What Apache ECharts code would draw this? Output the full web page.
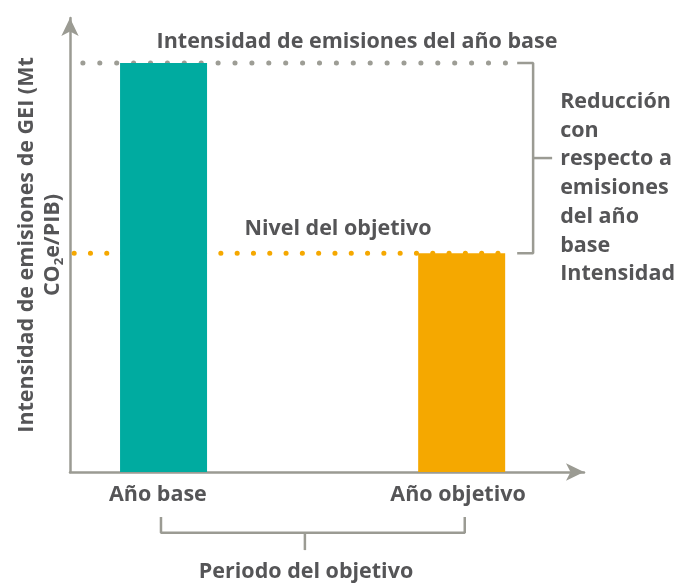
<!DOCTYPE html>
<html>
<head>
<meta charset="utf-8">
<script src="https://cdn.jsdelivr.net/npm/echarts@6/dist/echarts.min.js"></script>
<style>
  html, body { margin: 0; padding: 0; background: #fff; }
  #chart { width: 685px; height: 585px; }
</style>
</head>
<body>
<div id="chart"></div>
<script>
// -------------------- data --------------------
const categories = ['Año base', 'Año objetivo']
const positions = [18.2, 76.2]        // bar centres on the 0-100 horizontal scale
const labelPositions = [17.1, 75.5]   // category label centres
const intensity = [90.1, 48.2]        // bar heights on the 0-100 vertical scale
const barColors = ['#00aba0', '#f5a800']

// dotted reference lines (start / end on the horizontal scale)
const baseLineSpan = [2.5, 85.1]
const targetLineSpan = [0.8, 84.6]

// bracket anchors
const rightBracketX = [87.0, 90.1, 93.8]
const periodBracketX = [17.7, 45.7, 76.8]
const periodBracketY = [-9.9, -13.4, -17.2]

const titleText = 'Intensidad de emisiones del año base'
const targetText = 'Nivel del objetivo'
const reductionText = 'Reducción\ncon\nrespecto a\nemisiones\ndel año\nbase\nIntensidad'
const periodText = 'Periodo del objetivo'

const textColor = '#555557'
const lineColor = '#9b9b93'
const font = '"Open Sans"'
const fontSize = 21.5

// -------------------- chart --------------------
const chart = echarts.init(document.getElementById('chart'))

const midLevel = (intensity[0] + intensity[1]) / 2

function plain(data, extra) {
  return Object.assign({
    type: 'line',
    data: data,
    showSymbol: false,
    symbol: 'none',
    clip: false,
    silent: true,
    z: 1,
    lineStyle: { color: lineColor, width: 2.5 }
  }, extra || {})
}

const option = {
  animation: false,
  grid: { left: 70, right: 101, top: 18, bottom: 113 },
  xAxis: {
    type: 'value',
    min: 0,
    max: 100,
    splitLine: { show: false },
    axisTick: { show: false },
    axisLine: {
      show: true,
      onZero: false,
      symbol: ['none', 'arrow'],
      symbolSize: [13, 18],
      lineStyle: { color: lineColor, width: 2.5 }
    },
    axisLabel: {
      customValues: labelPositions,
      formatter: (v) => categories[labelPositions.indexOf(v)] || '',
      color: textColor,
      fontFamily: font,
      fontWeight: 'bold',
      fontSize: fontSize,
      margin: 12
    }
  },
  yAxis: {
    type: 'value',
    min: 0,
    max: 100,
    splitLine: { show: false },
    axisTick: { show: false },
    axisLabel: { show: false },
    axisLine: {
      show: true,
      symbol: ['none', 'arrow'],
      symbolSize: [13, 18],
      lineStyle: { color: lineColor, width: 2.5 }
    },
    name: 'Intensidad de emisiones de GEI (Mt\nCO{s|2}e/PIB)',
    nameLocation: 'middle',
    nameRotate: 90,
    nameGap: 4,
    nameTextStyle: {
      color: textColor,
      fontFamily: font,
      fontWeight: 'bold',
      fontSize: fontSize,
      lineHeight: 26,
      rich: {
        s: { fontSize: 13, fontFamily: font, fontWeight: 'bold', color: textColor, verticalAlign: 'bottom', padding: [10, 0, 0, 0] }
      }
    }
  },
  series: [
    // dotted reference lines
    plain([[baseLineSpan[0], intensity[0]], [baseLineSpan[1], intensity[0]]], {
      lineStyle: { color: '#9d9d95', width: 5, type: [0.1, 16.8], cap: 'round' }
    }),
    plain([[targetLineSpan[0], intensity[1]], [targetLineSpan[1], intensity[1]]], {
      lineStyle: { color: barColors[1], width: 5, type: [0.1, 16.2], cap: 'round' }
    }),
    // bars
    {
      type: 'bar',
      barWidth: 87,
      z: 3,
      silent: true,
      data: positions.map((p, i) => ({
        value: [p, intensity[i]],
        itemStyle: { color: barColors[i] }
      }))
    },
    // right bracket
    plain([
      [rightBracketX[0], intensity[0]],
      [rightBracketX[1], intensity[0]],
      [rightBracketX[1], intensity[1]],
      [rightBracketX[0], intensity[1]]
    ]),
    plain([[rightBracketX[1], midLevel], [rightBracketX[2], midLevel]]),
    // period bracket
    plain([
      [periodBracketX[0], periodBracketY[0]],
      [periodBracketX[0], periodBracketY[1]],
      [periodBracketX[2], periodBracketY[1]],
      [periodBracketX[2], periodBracketY[0]]
    ]),
    plain([[periodBracketX[1], periodBracketY[1]], [periodBracketX[1], periodBracketY[2]]])
  ]
}

chart.setOption(option)

// -------------------- annotations --------------------
const textStyle = (text, align) => ({
  text: text,
  fill: textColor,
  font: 'bold ' + fontSize + 'px ' + font,
  align: align || 'center',
  verticalAlign: 'middle'
})

const basePx = chart.convertToPixel({ gridIndex: 0 }, [0, intensity[0]])
const targetPx = chart.convertToPixel({ gridIndex: 0 }, [0, intensity[1]])
const midPx = chart.convertToPixel({ gridIndex: 0 }, [rightBracketX[2], midLevel])
const periodPx = chart.convertToPixel({ gridIndex: 0 }, [periodBracketX[1], periodBracketY[2]])

chart.setOption({
  graphic: [
    { type: 'text', x: 357, y: basePx[1] - 21, style: textStyle(titleText) },
    { type: 'text', x: 338, y: targetPx[1] - 24, style: textStyle(targetText) },
    {
      type: 'text', x: midPx[0] + 8, y: midPx[1] + 30,
      style: Object.assign(textStyle(reductionText, 'left'), { lineHeight: 28.7 })
    },
    { type: 'text', x: 306, y: periodPx[1] + 22, style: textStyle(periodText) }
  ]
})
</script>
</body>
</html>
